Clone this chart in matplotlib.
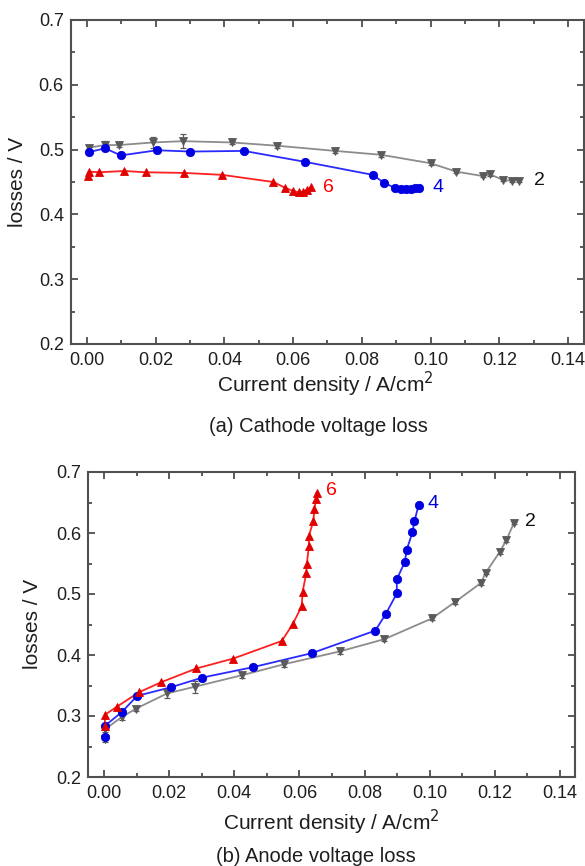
import matplotlib
matplotlib.use("Agg")
import matplotlib.pyplot as plt
from matplotlib.ticker import MultipleLocator

plt.rcParams['font.family'] = ['Liberation Sans', 'DejaVu Sans']

# ---------------- (a) Cathode voltage loss ----------------
cat2_x = [0.0005, 0.0053, 0.0094, 0.0192, 0.0279, 0.0423, 0.0553, 0.0722, 0.0856,
          0.1000, 0.1075, 0.1154, 0.1172, 0.1212, 0.1236, 0.1258]
cat2_y = [0.503, 0.507, 0.507, 0.511, 0.513, 0.511, 0.506, 0.498, 0.492,
          0.479, 0.466, 0.459, 0.462, 0.453, 0.452, 0.452]
cat2_err = [0.004, 0.006, 0.003, 0.008, 0.011, 0.003, 0.004, 0.003, 0.003,
            0.002, 0.002, 0.002, 0.003, 0.002, 0.002, 0.002]

cat4_x = [0.0005, 0.0053, 0.0099, 0.0204, 0.0301, 0.0457, 0.0636, 0.0832, 0.0864,
          0.0896, 0.0914, 0.0928, 0.0943, 0.0954, 0.0967]
cat4_y = [0.496, 0.502, 0.491, 0.499, 0.497, 0.498, 0.481, 0.461, 0.449,
          0.441, 0.439, 0.439, 0.439, 0.440, 0.441]

cat6_x = [0.0003, 0.0005, 0.0036, 0.0109, 0.0171, 0.0284, 0.0394, 0.0543, 0.0577,
          0.0601, 0.0616, 0.0628, 0.0640, 0.0652]
cat6_y = [0.459, 0.466, 0.465, 0.467, 0.465, 0.464, 0.461, 0.450, 0.441,
          0.436, 0.434, 0.435, 0.438, 0.442]

# ---------------- (b) Anode voltage loss ----------------
an2_x = [0.0003, 0.0003, 0.0054, 0.0098, 0.0194, 0.0279, 0.0425, 0.0554, 0.0725,
         0.0861, 0.1007, 0.1078, 0.1157, 0.1172, 0.1215, 0.1235, 0.1259]
an2_y = [0.262, 0.278, 0.298, 0.312, 0.337, 0.348, 0.367, 0.385, 0.406,
         0.426, 0.460, 0.487, 0.518, 0.535, 0.569, 0.588, 0.617]
an2_err = [0.004, 0.004, 0.005, 0.004, 0.008, 0.010, 0.004, 0.005, 0.004,
           0.003, 0.003, 0.003, 0.003, 0.003, 0.003, 0.003, 0.003]

an4_x = [0.0003, 0.0003, 0.0054, 0.0102, 0.0205, 0.0302, 0.0457, 0.0638, 0.0833,
         0.0866, 0.0899, 0.0899, 0.0924, 0.0929, 0.0947, 0.0953, 0.0966]
an4_y = [0.266, 0.284, 0.306, 0.333, 0.347, 0.363, 0.380, 0.403, 0.440,
         0.468, 0.501, 0.524, 0.553, 0.572, 0.601, 0.619, 0.646]

an6_x = [0.0003, 0.0003, 0.0039, 0.0108, 0.0174, 0.0284, 0.0396, 0.0546, 0.0580,
         0.0607, 0.0610, 0.0621, 0.0623, 0.0629, 0.0629, 0.0643, 0.0646, 0.0651, 0.0653]
an6_y = [0.283, 0.302, 0.315, 0.339, 0.355, 0.378, 0.394, 0.423, 0.451,
         0.480, 0.504, 0.534, 0.550, 0.578, 0.595, 0.620, 0.640, 0.655, 0.666]

xlim_top = (-0.0047, 0.1448)
xlim_bot = (-0.0048, 0.1446)
ylim = (0.2, 0.7)
xticks = [0.00, 0.02, 0.04, 0.06, 0.08, 0.10, 0.12, 0.14]
yticks = [0.2, 0.3, 0.4, 0.5, 0.6, 0.7]
xlabel_text = 'Current density / A/cm$^2$'
ylabel_text = 'losses / V'
captions = ['(a) Cathode voltage loss', '(b) Anode voltage loss']

GRAY_L, GRAY_M = '#8c8c8c', '#5a5a5a'
BLUE_L, BLUE_M = '#2a2aff', '#0000e0'
RED_L, RED_M = '#ff2020', '#e00000'
TXT = '#1e1e1e'

W, H = 585, 866
fig = plt.figure(figsize=(W / 100, H / 100), dpi=100)

def box(l, r, t, b):
    return [l / W, 1 - b / H, (r - l) / W, (b - t) / H]

def fx(px):
    return px / W

def fy(py):
    return 1 - py / H

ax1 = fig.add_axes(box(70.7, 584.5, 20, 344))
ax2 = fig.add_axes(box(88.3, 575, 472, 777))

def style(ax, xlim):
    ax.set_xlim(*xlim)
    ax.set_ylim(*ylim)
    ax.set_xticks(xticks)
    ax.set_xticklabels([f'{t:.2f}' for t in xticks])
    ax.set_yticks(yticks)
    ax.set_yticklabels([f'{t:.1f}' for t in yticks])
    ax.xaxis.set_minor_locator(MultipleLocator(0.01))
    ax.yaxis.set_minor_locator(MultipleLocator(0.05))
    ax.tick_params(which='both', direction='in', top=True, right=True,
                   colors='#404040', labelcolor=TXT, labelsize=13, width=1.2)
    ax.tick_params(which='major', length=5)
    ax.tick_params(which='minor', length=3)
    ax.tick_params(axis='x', pad=6)
    ax.tick_params(axis='y', pad=5)
    for s in ax.spines.values():
        s.set_color('#505050')
        s.set_linewidth(1.5)

def series(ax, x, y, lc, mc, marker, err=None):
    ax.plot(x, y, '-', color=lc, lw=1.3, zorder=2)
    if err is not None:
        ax.errorbar(x, y, yerr=err, fmt='none', ecolor=mc, elinewidth=0.9,
                    capsize=2.5, capthick=0.9, zorder=2)
    ax.plot(x, y, linestyle='none', marker=marker, ms=6, mfc=mc, mec=mc,
            mew=0.6, zorder=3)

style(ax1, xlim_top)
series(ax1, cat2_x, cat2_y, GRAY_L, GRAY_M, 'v', cat2_err)
series(ax1, cat4_x, cat4_y, BLUE_L, BLUE_M, 'o')
series(ax1, cat6_x, cat6_y, RED_L, RED_M, '^')
ax1.text(0.1300, 0.452, '2', color='#111111', fontsize=14, va='center', ha='left')
ax1.text(0.1005, 0.441, '4', color='#0000dd', fontsize=14, va='center', ha='left')
ax1.text(0.0688, 0.441, '6', color='#ff0000', fontsize=14, va='center', ha='left')

style(ax2, xlim_bot)
series(ax2, an2_x, an2_y, GRAY_L, GRAY_M, 'v', an2_err)
series(ax2, an4_x, an4_y, BLUE_L, BLUE_M, 'o')
series(ax2, an6_x, an6_y, RED_L, RED_M, '^')
ax2.text(0.1292, 0.619, '2', color='#111111', fontsize=14, va='center', ha='left')
ax2.text(0.0993, 0.648, '4', color='#0000dd', fontsize=14, va='center', ha='left')
ax2.text(0.0683, 0.670, '6', color='#ff0000', fontsize=14, va='center', ha='left')

# axis labels and captions
fig.text(fx(325), fy(392), xlabel_text, fontsize=15, color=TXT, ha='center', va='baseline')
fig.text(fx(331), fy(830), xlabel_text, fontsize=15, color=TXT, ha='center', va='baseline')
fig.text(fx(18), fy(182), ylabel_text, fontsize=15, color=TXT, ha='center', va='center',
         rotation=90)
fig.text(fx(33), fy(624), ylabel_text, fontsize=15, color=TXT, ha='center', va='center',
         rotation=90)
fig.text(fx(318), fy(432), captions[0], fontsize=14.5, color=TXT, ha='center', va='baseline')
fig.text(fx(316), fy(862), captions[1], fontsize=14.5, color=TXT, ha='center', va='baseline')

fig.savefig('out.png', dpi=100)
